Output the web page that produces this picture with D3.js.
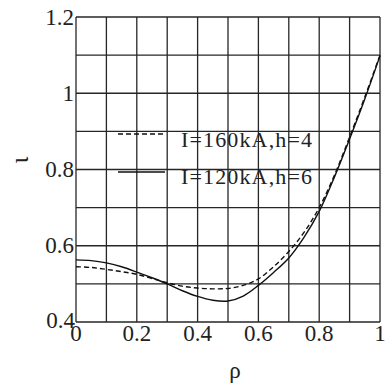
<!DOCTYPE html>
<html><head><meta charset="utf-8">
<script src="https://cdn.jsdelivr.net/npm/d3@7"></script>
<style>body{margin:0;background:#fff}svg{display:block}</style>
</head><body>
<script>
const rho = [0,0.05,0.1,0.15,0.2,0.25,0.3,0.35,0.4,0.45,0.5,0.55,0.6,0.65,0.7,0.75,0.8,0.85,0.9,0.95,1.0];
const iota160 = [0.545,0.543,0.538,0.532,0.525,0.514,0.503,0.494,0.489,0.487,0.488,0.496,0.513,0.545,0.585,0.635,0.700,0.785,0.885,0.990,1.100];
const iota120 = [0.563,0.561,0.555,0.545,0.531,0.516,0.500,0.482,0.467,0.457,0.455,0.468,0.496,0.530,0.568,0.622,0.690,0.780,0.880,0.985,1.098];
const xTicks = [0,0.2,0.4,0.6,0.8,1];
const xTickLabels = ["0","0.2","0.4","0.6","0.8","1"];
const yTicks = [0.4,0.6,0.8,1,1.2];
const yTickLabels = ["0.4","0.6","0.8","1","1.2"];
const legendLabels = ["I=160kA,h=4","I=120kA,h=6"];

const FONT = "Liberation Serif";
const W=386,H=385;
const svg=d3.select("body").append("svg").attr("width",W).attr("height",H);
const x=d3.scaleLinear().domain([0,1]).range([76,380]);
const y=d3.scaleLinear().domain([0.4,1.2]).range([322,17]);
const ink="#262626";

// grid
const g=svg.append("g");
d3.range(0,11).forEach(i=>{
  const v=i/10;
  g.append("line").attr("x1",x(v)).attr("x2",x(v)).attr("y1",y(0.4)).attr("y2",y(1.2)).attr("stroke",ink).attr("stroke-width",1.3);
});
d3.range(4,13).forEach(i=>{
  const v=i/10;
  g.append("line").attr("x1",x(0)).attr("x2",x(1)).attr("y1",y(v)).attr("y2",y(v)).attr("stroke",ink).attr("stroke-width",1.3);
});

const txt=(sel)=>sel.attr("fill","#222").attr("font-family",FONT);

// tick labels
xTicks.forEach((t,i)=>{
  svg.append("text").call(txt).attr("x",x(t)).attr("y",341).attr("text-anchor","middle").attr("font-size",23).text(xTickLabels[i]);
});
yTicks.forEach((t,i)=>{
  svg.append("text").call(txt).attr("x",i===0?75:74).attr("y",y(t)+(i===0?6:7.5)).attr("text-anchor","end").attr("font-size",23).text(yTickLabels[i]);
});

// curves
const line=d3.line().x(d=>x(d[0])).y(d=>y(d[1])).curve(d3.curveCatmullRom.alpha(0.5));
svg.append("path").datum(rho.map((r,i)=>[r,iota120[i]])).attr("d",line).attr("fill","none").attr("stroke","#111").attr("stroke-width",1.4);
svg.append("path").datum(rho.map((r,i)=>[r,iota160[i]])).attr("d",line).attr("fill","none").attr("stroke","#111").attr("stroke-width",1.4).attr("stroke-dasharray","5,3");

// legend
const ly=[134,172];
svg.append("line").attr("x1",118).attr("x2",165).attr("y1",ly[0]).attr("y2",ly[0]).attr("stroke","#111").attr("stroke-width",1.3).attr("stroke-dasharray","5,3");
svg.append("line").attr("x1",118).attr("x2",165).attr("y1",ly[1]).attr("y2",ly[1]).attr("stroke","#111").attr("stroke-width",1.3);
svg.append("text").call(txt).attr("x",181).attr("y",147).attr("font-size",22).attr("textLength",131).attr("lengthAdjust","spacing").text(legendLabels[0]);
svg.append("text").call(txt).attr("x",181).attr("y",184).attr("font-size",22).attr("textLength",131).attr("lengthAdjust","spacing").text(legendLabels[1]);

// axis titles
svg.append("text").call(txt).attr("x",235).attr("y",378).attr("text-anchor","middle").attr("font-size",23).text("ρ");
svg.append("text").call(txt).attr("transform","translate(28,160) rotate(-90)").attr("text-anchor","middle").attr("font-size",26).text("ι");
</script>
</body></html>
